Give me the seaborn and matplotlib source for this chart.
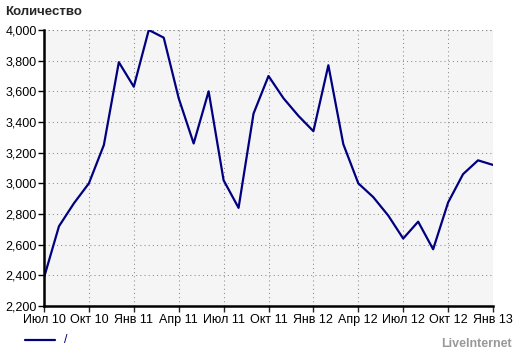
import numpy as np
import pandas as pd
import matplotlib
matplotlib.use("Agg")
import matplotlib.pyplot as plt
import seaborn as sns
from matplotlib.ticker import FuncFormatter, MultipleLocator

months = ["Июл 10", "Авг 10", "Сен 10", "Окт 10", "Ноя 10", "Дек 10",
          "Янв 11", "Фев 11", "Мар 11", "Апр 11", "Май 11", "Июн 11",
          "Июл 11", "Авг 11", "Сен 11", "Окт 11", "Ноя 11", "Дек 11",
          "Янв 12", "Фев 12", "Мар 12", "Апр 12", "Май 12", "Июн 12",
          "Июл 12", "Авг 12", "Сен 12", "Окт 12", "Ноя 12", "Дек 12",
          "Янв 13"]
values = [2385, 2720, 2870, 3000, 3250, 3790,
          3630, 4000, 3950, 3555, 3260, 3600,
          3020, 2840, 3455, 3700, 3555, 3440,
          3340, 3770, 3255, 3000, 2910, 2790,
          2640, 2750, 2570, 2875, 3060, 3150,
          3120]
tick_labels = ["Июл 10", "Окт 10", "Янв 11", "Апр 11", "Июл 11", "Окт 11",
               "Янв 12", "Апр 12", "Июл 12", "Окт 12", "Янв 13"]
title = "Количество"
legend_label = "/"
brand = "LiveInternet"

df = pd.DataFrame({"idx": np.arange(len(months)), "month": months, "value": values})

sns.set_theme(style="white")
plt.rcParams["font.family"] = ["Liberation Sans", "DejaVu Sans"]

fig = plt.figure(figsize=(5.2, 3.53), dpi=100)
ax = fig.add_axes([44/520, 1-306/353, (493-44)/520, (306-30)/353])
ax.set_facecolor("#f5f5f5")

sns.lineplot(data=df, x="idx", y="value", ax=ax, color="#000080", linewidth=1.6)

grid_style = dict(color="#8c8c8c", linestyle=(0, (1, 3)), linewidth=0.75)
ax.set_xlim(0, len(months)-1)
ax.set_ylim(2200, 4000)
tick_pos = [months.index(t) for t in tick_labels]
ax.set_xticks(tick_pos)
ax.set_xticklabels(tick_labels, fontsize=9, color="black")
ax.yaxis.set_major_locator(MultipleLocator(200))
ax.yaxis.set_major_formatter(FuncFormatter(lambda v, p: f"{int(v):,}"))
ax.tick_params(axis="y", labelsize=9, colors="black", length=4, width=1, direction="out", left=True, pad=1)
ax.tick_params(axis="x", length=4, width=1, direction="out", bottom=True, pad=2)
ax.set_xlabel("")
ax.set_ylabel("")

ax.grid(True, **grid_style)
ax.set_axisbelow(True)
for s in ["top", "right"]:
    ax.spines[s].set_visible(False)
for s in ["left", "bottom"]:
    ax.spines[s].set_color("black")
    ax.spines[s].set_linewidth(1.8)
ax.axhline(4000, zorder=0, **grid_style)
ax.axvline(len(months)-1, zorder=0, **grid_style)

fig.text(5/520, 1-12/353, title, fontsize=9.5, fontweight="bold", va="center", ha="left")
fig.lines.append(plt.Line2D([25/520, 55/520], [1-340/353, 1-340/353], transform=fig.transFigure,
                            color="#000080", linewidth=1.6))
fig.text(64/520, 1-340/353, legend_label, fontsize=9, color="#000080", va="center", ha="left")
fig.text(512/520, 1-344/353, brand, fontsize=9, fontweight="bold", color="#999999",
         va="center", ha="right")

fig.savefig("out.png", dpi=100)
